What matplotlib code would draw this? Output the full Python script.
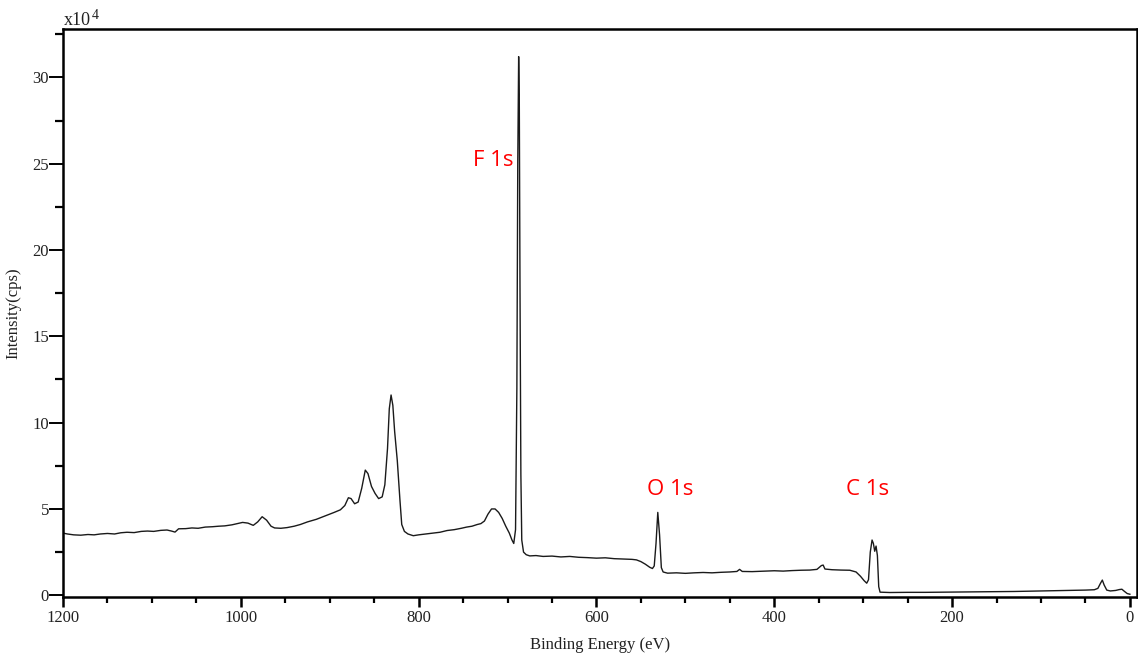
import numpy as np
import matplotlib
matplotlib.use("Agg")
import matplotlib.pyplot as plt
from matplotlib.ticker import MultipleLocator

# Survey spectrum (binding energy in eV, intensity in 1e4 cps)
energy = [
    1200, 1195, 1188, 1180, 1172, 1165, 1158, 1150, 1142, 1135, 1128, 1120,
    1112, 1105, 1098, 1090, 1083, 1078, 1074, 1070, 1062, 1055, 1048, 1040,
    1032, 1025, 1018, 1010, 1004, 998, 992, 986, 981, 976, 971, 966, 962,
    955, 948, 940, 933, 925, 915, 905, 895, 888, 883, 879, 876, 872, 868,
    864, 860, 857, 853, 849, 845, 841, 838, 835, 833, 831, 829, 827, 824,
    821, 819, 816, 812, 806, 800, 792, 784, 776, 768, 760, 752, 746, 740,
    734, 730, 726, 722, 718, 714, 710, 706, 702, 698, 695, 693, 691, 689.5,
    688.5, 687.5, 686.8, 686, 685, 684, 682, 679, 675, 668, 660, 650, 640,
    630, 620, 610, 600, 590, 580, 570, 560, 555, 550, 545, 540, 537, 535,
    533, 531, 529, 527, 525, 520, 510, 500, 490, 480, 470, 460, 450, 442,
    439, 436, 425, 410, 400, 390, 380, 370, 360, 352, 347, 345, 343, 335,
    325, 315, 308, 303, 299, 296, 294, 292, 290, 288.5, 287, 285.5, 284,
    282.5, 281, 270, 250, 230, 210, 190, 170, 150, 130, 110, 90, 70, 50,
    40, 36, 33, 31, 29, 26, 22, 16, 12, 9, 6, 3, 0,
]
intensity = [
    3.60, 3.55, 3.50, 3.48, 3.52, 3.50, 3.55, 3.58, 3.55, 3.62, 3.65, 3.63,
    3.70, 3.72, 3.70, 3.76, 3.78, 3.72, 3.66, 3.85, 3.86, 3.90, 3.88, 3.95,
    3.97, 4.00, 4.02, 4.08, 4.15, 4.22, 4.18, 4.05, 4.25, 4.55, 4.35, 4.00, 3.90,
    3.88, 3.92, 4.00, 4.10, 4.25, 4.40, 4.60, 4.80, 4.95, 5.20, 5.65, 5.60, 5.30, 5.40,
    6.20, 7.25, 7.05, 6.30, 5.90, 5.60, 5.70, 6.40, 8.50, 10.8, 11.6, 11.0, 9.5, 7.8,
    5.5, 4.1, 3.7, 3.55, 3.45, 3.50, 3.55, 3.60, 3.65, 3.75, 3.80, 3.88, 3.95, 4.00,
    4.10, 4.15, 4.30, 4.70, 5.00, 5.00, 4.80, 4.45, 4.00, 3.60, 3.20, 3.00, 3.80, 12.0,
    25.0, 31.2, 29.0, 18.0, 7.0, 3.2, 2.50, 2.35, 2.28, 2.30, 2.25, 2.27, 2.22,
    2.25, 2.20, 2.18, 2.15, 2.17, 2.12, 2.10, 2.08, 2.05, 1.95, 1.80, 1.62, 1.55, 1.70,
    3.00, 4.80, 3.50, 1.60, 1.35, 1.28, 1.30, 1.27, 1.30, 1.32, 1.30, 1.33, 1.35, 1.38,
    1.50, 1.38, 1.37, 1.40, 1.42, 1.40, 1.43, 1.45, 1.46, 1.50, 1.72, 1.75, 1.52, 1.48,
    1.46, 1.45, 1.35, 1.10, 0.85, 0.70, 0.90, 2.50, 3.20, 3.00, 2.55, 2.85, 2.30,
    0.50, 0.18, 0.16, 0.17, 0.17, 0.18, 0.19, 0.20, 0.21, 0.22, 0.24, 0.26, 0.28, 0.30,
    0.32, 0.40, 0.70, 0.88, 0.60, 0.30, 0.25, 0.28, 0.33, 0.35, 0.22, 0.10, 0.06,
]

peak_labels = ["F 1s", "O 1s", "C 1s"]
peak_label_x = [716, 517, 295]
peak_label_y = [25.2, 6.1, 6.1]

serif = "Liberation Serif"

fig = plt.figure(figsize=(11.38, 6.68), dpi=100)
ax = fig.add_axes([63 / 1138, 1 - 597 / 668, 1074 / 1138, 568 / 668])

ax.plot(energy, intensity, color="#1a1a1a", lw=1.0)

ax.set_xlim(1200, -8)
ax.set_ylim(-0.1, 32.8)

ax.xaxis.set_major_locator(MultipleLocator(200))
ax.xaxis.set_minor_locator(MultipleLocator(50))
ax.yaxis.set_major_locator(MultipleLocator(5))
ax.yaxis.set_minor_locator(MultipleLocator(2.5))

for s in ax.spines.values():
    s.set_linewidth(1.8)
    s.set_color("black")

ax.tick_params(axis="x", which="major", direction="out", length=7, width=1.8, pad=2)
ax.tick_params(axis="x", which="minor", direction="out", length=4, width=1.6)
ax.tick_params(axis="y", which="major", direction="out", length=10, width=1.4, pad=0)
ax.tick_params(axis="y", which="minor", direction="out", length=5.5, width=1.6)

for lab in ax.get_xticklabels() + ax.get_yticklabels():
    lab.set_fontfamily(serif)
    lab.set_fontsize(12)
    lab.set_color("#222222")

ax.set_xlabel("Binding Energy (eV)", fontfamily=serif, fontsize=12, color="#222222", labelpad=8)
ax.set_ylabel("Intensity(cps)", fontfamily=serif, fontsize=12, color="#222222", labelpad=8)

fig.text(64 / 1138, 1 - 29 / 668, "x10", fontfamily=serif, fontsize=13, color="#222222",
         ha="left", va="bottom")
fig.text(92 / 1138, 1 - 22 / 668, "4", fontfamily=serif, fontsize=10, color="#222222",
         ha="left", va="bottom")

for txt, x, y in zip(peak_labels, peak_label_x, peak_label_y):
    ax.text(x, y, txt, color="red", fontfamily="Open Sans", fontsize=16, ha="center", va="center")

fig.savefig("out.png", dpi=100)
